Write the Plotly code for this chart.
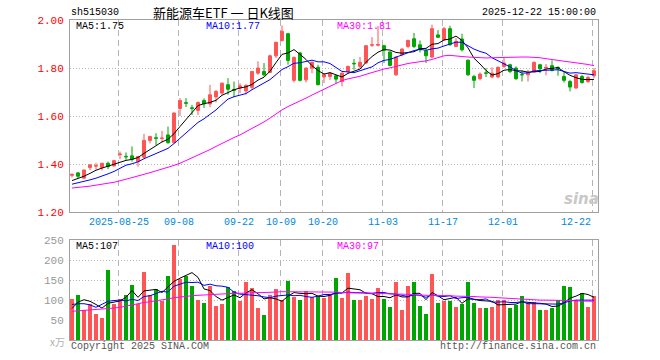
import plotly.graph_objects as go

# ---------------- data ----------------
symbol = "sh515030"
title_text = "新能源车ETF\u00a0一\u00a0日K线图"
stamp = "2025-12-22 15:00:00"

tick_labels = ["2025-08-25", "09-08", "09-22", "10-09", "10-20", "11-03", "11-17", "12-01", "12-22"]
tick_index = [8, 18, 28, 35, 42, 52, 62, 72, 87]

price_ticks = [1.20, 1.40, 1.60, 1.80, 2.00]
vol_ticks = [50, 100, 150, 200, 250]

opens = [1.354, 1.364, 1.342, 1.386, 1.392, 1.386, 1.404, 1.393, 1.440, 1.433,
         1.435, 1.411, 1.429, 1.499, 1.510, 1.507, 1.522, 1.490, 1.632, 1.656,
         1.635, 1.624, 1.665, 1.651, 1.680, 1.696, 1.731, 1.711, 1.717, 1.705,
         1.720, 1.779, 1.786, 1.782, 1.851, 1.915, 1.943, 1.749, 1.863, 1.751,
         1.800, 1.803, 1.763, 1.765, 1.768, 1.744, 1.786, 1.820, 1.807, 1.821,
         1.895, 1.895, 1.893, 1.867, 1.772, 1.856, 1.890, 1.922, 1.897, 1.872,
         1.846, 1.938, 1.917, 1.964, 1.890, 1.921, 1.833, 1.765, 1.756, 1.780,
         1.763, 1.763, 1.807, 1.814, 1.800, 1.773, 1.772, 1.784, 1.814, 1.801,
         1.810, 1.803, 1.765, 1.744, 1.717, 1.765, 1.744, 1.768]
highs = [1.360, 1.368, 1.377, 1.401, 1.406, 1.405, 1.411, 1.418, 1.453, 1.449,
         1.474, 1.435, 1.526, 1.518, 1.529, 1.539, 1.557, 1.615, 1.675, 1.675,
         1.647, 1.661, 1.674, 1.730, 1.708, 1.740, 1.758, 1.744, 1.737, 1.733,
         1.788, 1.828, 1.821, 1.856, 1.910, 1.977, 1.946, 1.849, 1.867, 1.803,
         1.828, 1.814, 1.779, 1.783, 1.772, 1.782, 1.810, 1.838, 1.846, 1.896,
         1.929, 1.974, 1.897, 1.869, 1.849, 1.883, 1.918, 1.946, 1.915, 1.883,
         1.981, 1.958, 1.971, 1.976, 1.925, 1.943, 1.835, 1.772, 1.782, 1.800,
         1.803, 1.807, 1.842, 1.818, 1.807, 1.790, 1.793, 1.827, 1.818, 1.817,
         1.832, 1.807, 1.786, 1.751, 1.775, 1.772, 1.768, 1.800]
lows = [1.345, 1.342, 1.340, 1.375, 1.377, 1.374, 1.380, 1.390, 1.421, 1.418,
        1.411, 1.390, 1.425, 1.487, 1.480, 1.490, 1.485, 1.487, 1.601, 1.638,
        1.605, 1.605, 1.634, 1.637, 1.657, 1.689, 1.689, 1.679, 1.696, 1.690,
        1.710, 1.772, 1.765, 1.779, 1.842, 1.911, 1.814, 1.740, 1.744, 1.740,
        1.779, 1.728, 1.738, 1.751, 1.735, 1.724, 1.779, 1.793, 1.800, 1.818,
        1.888, 1.890, 1.821, 1.807, 1.768, 1.849, 1.883, 1.883, 1.865, 1.821,
        1.842, 1.925, 1.915, 1.893, 1.888, 1.869, 1.768, 1.717, 1.749, 1.763,
        1.758, 1.758, 1.800, 1.779, 1.751, 1.744, 1.744, 1.782, 1.779, 1.770,
        1.786, 1.768, 1.740, 1.703, 1.714, 1.735, 1.738, 1.758]
closes = [1.358, 1.350, 1.376, 1.397, 1.394, 1.404, 1.390, 1.415, 1.442, 1.431,
          1.421, 1.432, 1.499, 1.515, 1.508, 1.509, 1.490, 1.613, 1.665, 1.654,
          1.632, 1.657, 1.651, 1.689, 1.703, 1.737, 1.712, 1.708, 1.726, 1.728,
          1.786, 1.800, 1.772, 1.851, 1.907, 1.953, 1.832, 1.844, 1.749, 1.800,
          1.824, 1.731, 1.772, 1.779, 1.754, 1.779, 1.807, 1.818, 1.824, 1.893,
          1.897, 1.898, 1.874, 1.811, 1.846, 1.879, 1.915, 1.890, 1.876, 1.851,
          1.964, 1.928, 1.964, 1.897, 1.911, 1.876, 1.772, 1.749, 1.775, 1.779,
          1.779, 1.803, 1.821, 1.786, 1.756, 1.772, 1.782, 1.824, 1.797, 1.803,
          1.790, 1.796, 1.749, 1.721, 1.772, 1.740, 1.761, 1.789]

ma5 = [1.332, 1.340, 1.350, 1.362, 1.375, 1.384, 1.392, 1.400, 1.409, 1.416,
       1.420, 1.428, 1.445, 1.460, 1.475, 1.493, 1.504, 1.527, 1.557, 1.586,
       1.611, 1.644, 1.652, 1.657, 1.666, 1.687, 1.698, 1.710, 1.717, 1.722,
       1.732, 1.750, 1.762, 1.787, 1.823, 1.857, 1.863, 1.877, 1.857, 1.836,
       1.810, 1.790, 1.775, 1.781, 1.772, 1.763, 1.778, 1.787, 1.796, 1.824,
       1.848, 1.866, 1.877, 1.875, 1.865, 1.862, 1.865, 1.868, 1.881, 1.882,
       1.899, 1.902, 1.917, 1.921, 1.933, 1.915, 1.884, 1.841, 1.817, 1.790,
       1.771, 1.777, 1.791, 1.794, 1.789, 1.788, 1.783, 1.784, 1.786, 1.796,
       1.799, 1.802, 1.785, 1.770, 1.760, 1.753, 1.752, 1.753]
ma10 = [1.317, 1.322, 1.328, 1.335, 1.342, 1.350, 1.360, 1.370, 1.383, 1.396,
        1.402, 1.410, 1.423, 1.434, 1.446, 1.456, 1.466, 1.486, 1.508, 1.531,
        1.552, 1.574, 1.589, 1.607, 1.626, 1.649, 1.671, 1.681, 1.687, 1.694,
        1.710, 1.724, 1.736, 1.752, 1.773, 1.794, 1.806, 1.820, 1.822, 1.829,
        1.833, 1.826, 1.826, 1.819, 1.804, 1.786, 1.784, 1.781, 1.789, 1.798,
        1.805, 1.822, 1.832, 1.836, 1.845, 1.855, 1.866, 1.873, 1.878, 1.874,
        1.880, 1.883, 1.892, 1.901, 1.908, 1.907, 1.893, 1.879, 1.869, 1.862,
        1.843, 1.831, 1.816, 1.805, 1.790, 1.779, 1.780, 1.788, 1.790, 1.792,
        1.793, 1.793, 1.786, 1.779, 1.781, 1.777, 1.775, 1.772]
ma30 = [1.301, 1.303, 1.306, 1.309, 1.313, 1.316, 1.320, 1.325, 1.331, 1.337,
        1.344, 1.351, 1.358, 1.365, 1.372, 1.379, 1.387, 1.395, 1.404, 1.415,
        1.426, 1.437, 1.449, 1.461, 1.474, 1.487, 1.499, 1.511, 1.522, 1.535,
        1.548, 1.562, 1.576, 1.592, 1.610, 1.626, 1.640, 1.651, 1.662, 1.675,
        1.688, 1.700, 1.712, 1.724, 1.738, 1.748, 1.755, 1.760, 1.766, 1.774,
        1.782, 1.790, 1.796, 1.801, 1.808, 1.813, 1.819, 1.823, 1.826, 1.830,
        1.836, 1.843, 1.851, 1.853, 1.852, 1.848, 1.846, 1.844, 1.842, 1.842,
        1.843, 1.844, 1.846, 1.846, 1.846, 1.846, 1.846, 1.846, 1.843, 1.839,
        1.836, 1.833, 1.829, 1.826, 1.824, 1.819, 1.815, 1.810]

volume = [102, 112, 75, 90, 65, 56, 175, 90, 102, 112,
          138, 90, 170, 112, 127, 98, 160, 238, 152, 160,
          135, 100, 92, 135, 85, 90, 132, 123, 98, 145,
          130, 81, 62, 112, 128, 100, 148, 108, 100, 122,
          108, 111, 106, 112, 156, 106, 168, 100, 100, 111,
          102, 131, 102, 83, 146, 75, 135, 146, 85, 65,
          165, 93, 98, 98, 82, 90, 146, 93, 81, 81,
          83, 100, 100, 81, 88, 110, 92, 96, 75, 75,
          81, 100, 135, 133, 100, 117, 83, 111]
vma5 = [79, 95, 101, 97, 89, 80, 92, 95, 98, 107,
        124, 107, 123, 125, 127, 119, 133, 147, 155, 162,
        169, 157, 128, 124, 109, 100, 107, 113, 106, 118,
        126, 116, 103, 106, 103, 97, 110, 119, 117, 116,
        117, 110, 109, 112, 119, 118, 130, 128, 126, 117,
        116, 109, 109, 106, 113, 108, 108, 117, 117, 101,
        119, 111, 101, 104, 107, 92, 103, 102, 99, 98,
        97, 88, 89, 89, 90, 96, 94, 93, 92, 90,
        84, 85, 93, 105, 110, 117, 114, 107]
vma10 = [89, 91, 91, 88, 82, 90, 97, 99, 100, 98,
         102, 99, 109, 111, 117, 122, 120, 135, 140, 145,
         144, 145, 137, 140, 136, 135, 132, 120, 115, 114,
         113, 111, 108, 106, 110, 111, 113, 111, 112, 109,
         107, 110, 114, 114, 117, 118, 120, 119, 119, 118,
         117, 119, 119, 116, 115, 112, 109, 113, 112, 107,
         113, 110, 109, 111, 104, 106, 107, 102, 101, 103,
         95, 95, 96, 94, 94, 96, 91, 91, 91, 90,
         90, 90, 93, 98, 100, 100, 100, 100]
vma30 = [72, 73, 74, 75, 76, 77, 79, 80, 82, 85,
         88, 92, 94, 96, 98, 100, 103, 106, 108, 110,
         111, 112, 113, 114, 115, 115, 116, 117, 117, 118,
         119, 119, 119, 120, 120, 121, 121, 121, 121, 121,
         121, 120, 120, 120, 120, 119, 118, 118, 118, 117,
         117, 117, 116, 116, 115, 115, 114, 114, 113, 112,
         112, 112, 111, 111, 110, 110, 109, 109, 108, 108,
         107, 106, 105, 104, 103, 102, 101, 101, 100, 100,
         100, 100, 99, 99, 98, 98, 97, 97]

# ---------------- styling ----------------
UP = "#ff5555"
DOWN = "#00a600"
MONO = "Liberation Mono, DejaVu Sans Mono, monospace"
FRAME = "#a0a0a0"
FS = 10

idx = list(range(len(closes)))
grid_x = [p - 0.25 for p in tick_index]

fig = go.Figure()
fig.add_trace(go.Candlestick(
    x=idx, open=opens, high=highs, low=lows, close=closes,
    increasing=dict(line=dict(color=UP, width=1), fillcolor=UP),
    decreasing=dict(line=dict(color=DOWN, width=1), fillcolor=DOWN),
    whiskerwidth=0, xaxis="x", yaxis="y", hoverinfo="skip"))
for vals, col in [(ma5, "#000000"), (ma10, "#0000ff"), (ma30, "#ff00ff")]:
    fig.add_trace(go.Scatter(x=idx, y=vals, mode="lines",
                             line=dict(color=col, width=1), xaxis="x", yaxis="y",
                             hoverinfo="skip"))

bar_colors = [UP if c >= o else DOWN for o, c in zip(opens, closes)]
fig.add_trace(go.Bar(x=idx, y=volume, width=0.82,
                     marker=dict(color=bar_colors, line=dict(width=0)),
                     xaxis="x2", yaxis="y2", hoverinfo="skip"))
for vals, col in [(vma5, "#000000"), (vma10, "#0000ff"), (vma30, "#ff00ff")]:
    fig.add_trace(go.Scatter(x=idx, y=vals, mode="lines",
                             line=dict(color=col, width=1), xaxis="x2", yaxis="y2",
                             hoverinfo="skip"))

xr = [-1 / 3, len(closes) - 1 / 3]
xcommon = dict(range=xr, tickmode="array", tickvals=grid_x, showticklabels=False,
               ticks="", showgrid=True, gridcolor="#b4b4b4", griddash="6px,4px",
               gridwidth=1, showline=True, linecolor=FRAME, linewidth=1,
               mirror=True, zeroline=False, fixedrange=True)

fig.update_layout(
    width=660, height=360,
    margin=dict(l=70, r=62, t=20, b=20, autoexpand=False),
    paper_bgcolor="white", plot_bgcolor="white",
    showlegend=False, bargap=0, boxgap=0.3,
    xaxis=dict(domain=[0, 1], anchor="y", rangeslider=dict(visible=False), **xcommon),
    xaxis2=dict(domain=[0, 1], anchor="y2", **xcommon),
    yaxis=dict(domain=[0.399, 1.0], range=[price_ticks[0], price_ticks[-1]],
               tickmode="array", tickvals=price_ticks,
               ticktext=[f"{v:.2f}" for v in price_ticks],
               tickfont=dict(family=MONO, size=11, color="#ff0000"),
               ticks="", ticklabelstandoff=3,
               showgrid=True, gridcolor="#b4b4b4", griddash="1px,2px",
               showline=True, linecolor=FRAME, mirror=True, zeroline=False,
               fixedrange=True),
    yaxis2=dict(domain=[0, 0.3116], range=[0, vol_ticks[-1]],
                tickmode="array", tickvals=vol_ticks,
                ticktext=[str(v) for v in vol_ticks],
                tickfont=dict(family=MONO, size=11, color="#999999"),
                ticks="", ticklabelstandoff=3,
                showgrid=True, gridcolor="#b4b4b4", griddash="1px,2px",
                showline=True, linecolor=FRAME, mirror=True, zeroline=False,
                fixedrange=True),
)

ann = []
def add(text, x, y, xanchor="left", color="#000000", size=FS, family=MONO,
        xref="paper", yref="paper", **kw):
    ann.append(dict(text=text, x=x, y=y, xref=xref, yref=yref, xanchor=xanchor,
                    yanchor="middle", showarrow=False,
                    font=dict(family=family, size=size, color=color), **kw))

def px_x(p):
    return (p - 70) / 528.0

def px_y(p):
    return (340 - p) / 320.0

# header row
add(symbol, px_x(69), px_y(13), "left", "#000000")
add(title_text, px_x(223), px_y(13), "center", "#000000", 13,
    "Noto Sans CJK SC, sans-serif")
add(stamp, px_x(598), px_y(13), "right", "#000000")

# MA legends, price panel
add(f"MA5:{ma5[-1]:.2f}", px_x(74), px_y(27), "left", "#000000")
add(f"MA10:{ma10[-1]:.2f}", px_x(204), px_y(27), "left", "#0000ff")
add(f"MA30:{ma30[-1]:.2f}", px_x(335), px_y(27), "left", "#ff00ff")

# MA legends, volume panel
add(f"MA5:{vma5[-1]}", px_x(74), px_y(246), "left", "#000000")
add(f"MA10:{vma10[-1]}", px_x(204), px_y(246), "left", "#0000ff")
add(f"MA30:{vma30[-1]}", px_x(335), px_y(246), "left", "#ff00ff")

# date labels
for k, (lab, gx) in enumerate(zip(tick_labels, grid_x)):
    last = k == len(tick_labels) - 1
    add(lab, gx, px_y(222), "right" if last else "center", "#0088dd",
        xref="x")

# footer
add("Copyright 2025 SINA.COM", px_x(69), px_y(346), "left", "#555555")
add("http://finance.sina.com.cn", px_x(598), px_y(346), "right", "#555555")
add("x万", px_x(67), px_y(341), "right", "#b0b0b0", 10,
    "Noto Sans CJK SC, sans-serif")

# watermark
add("<b><i>sina</i></b>", px_x(581), px_y(199), "center", "#c8c8c8", 15,
    "DejaVu Sans, sans-serif")

fig.update_layout(annotations=ann)
fig.write_html("out.html",
               config={"displayModeBar": False, "staticPlot": True},
               post_script="document.body.style.margin='0px';document.body.style.padding='0px';")
